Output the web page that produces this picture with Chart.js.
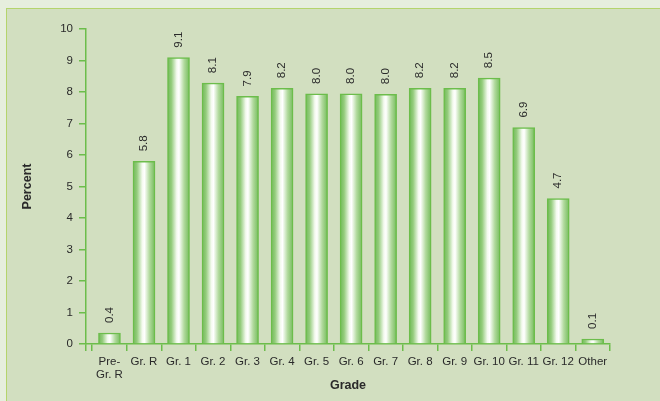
<!DOCTYPE html>
<html>
<head>
<meta charset="utf-8">
<script src="https://cdn.jsdelivr.net/npm/chart.js@4/dist/chart.umd.min.js"></script>
<style>
  html, body { margin:0; padding:0; }
  body { width:660px; height:401px; background:#e6eedd; position:relative; overflow:hidden; }
  #panel { position:absolute; left:6px; top:8px; width:700px; height:450px; background:#d2dfc0;
           border-left:1.5px solid #b4d46c; border-top:1.5px solid #b4d46c; }
  #wrap { position:absolute; left:0; top:0; width:660px; height:401px; }
</style>
</head>
<body>
<div id="panel"></div>
<div id="wrap"><canvas id="c" width="660" height="401"></canvas></div>
<script>
const categories = [['Pre-','Gr. R'], 'Gr. R', 'Gr. 1', 'Gr. 2', 'Gr. 3', 'Gr. 4', 'Gr. 5', 'Gr. 6', 'Gr. 7', 'Gr. 8', 'Gr. 9', 'Gr. 10', 'Gr. 11', 'Gr. 12', 'Other'];
const percentValues = [0.35, 5.8, 9.09, 8.28, 7.86, 8.12, 7.94, 7.94, 7.93, 8.12, 8.12, 8.44, 6.87, 4.62, 0.16];
const valueLabels = ['0.4', '5.8', '9.1', '8.1', '7.9', '8.2', '8.0', '8.0', '8.0', '8.2', '8.2', '8.5', '6.9', '4.7', '0.1'];
const yTicks = [0, 1, 2, 3, 4, 5, 6, 7, 8, 9, 10];

const AXIS = '#6cbd4b';
const TXT = '#2a2a2a';
const X_MIN = -0.68;
const X_MAX = categories.length - 0.5;
const BAR_W = 22;

function barFill(ctx) {
  const chart = ctx.chart;
  const xs = chart.scales.x;
  if (!chart.chartArea || !xs || ctx.dataIndex === undefined) return '#a6d48e';
  const cx = xs.getPixelForValue(ctx.dataIndex);
  const w = BAR_W;
  const g = chart.ctx.createLinearGradient(cx - w / 2, 0, cx + w / 2, 0);
  g.addColorStop(0, '#6fb957');
  g.addColorStop(0.18, '#94cc7c');
  g.addColorStop(0.42, '#f4faef');
  g.addColorStop(0.52, '#ffffff');
  g.addColorStop(0.75, '#b2da9e');
  g.addColorStop(1, '#74bb5b');
  return g;
}

const valueLabelPlugin = {
  id: 'valueLabels',
  afterDatasetsDraw(chart) {
    const meta = chart.getDatasetMeta(0);
    const c = chart.ctx;
    c.save();
    c.fillStyle = TXT;
    c.font = '11.5px "Liberation Sans", Arial, sans-serif';
    c.textAlign = 'left';
    c.textBaseline = 'middle';
    meta.data.forEach((el, i) => {
      const p = el.getProps(['x', 'y'], true);
      c.save();
      c.translate(p.x, p.y - 10);
      c.rotate(-Math.PI / 2);
      c.fillText(valueLabels[i], 0, 0);
      c.restore();
    });
    c.restore();
  }
};

new Chart(document.getElementById('c'), {
  type: 'bar',
  data: {
    datasets: [{
      data: percentValues.map((v, i) => ({ x: i, y: v })),
      backgroundColor: barFill,
      borderColor: '#6cbd4b',
      borderWidth: 1.5,
      barThickness: BAR_W
    }]
  },
  options: {
    responsive: false,
    animation: false,
    devicePixelRatio: 1,
    layout: { padding: { top: 29, right: 50, bottom: 0, left: 0 } },
    plugins: { legend: { display: false }, tooltip: { enabled: false } },
    scales: {
      x: {
        type: 'linear',
        min: X_MIN,
        max: X_MAX,
        bounds: 'data',
        offset: false,
        afterBuildTicks: (s) => {
          const t = [{ value: X_MIN }];
          for (let i = 0; i <= categories.length; i++) t.push({ value: i - 0.5 });
          s.ticks = t;
        },
        afterFit: (s) => { s.height = 57; },
        grid: { offset: false, drawOnChartArea: false, tickLength: 7, color: AXIS, lineWidth: 1.5 },
        border: { color: AXIS, width: 1.5 },
        ticks: {
          autoSkip: false, maxRotation: 0, minRotation: 0,
          labelOffset: 17.25, padding: 4, color: TXT,
          font: { family: '"Liberation Sans", Arial, sans-serif', size: 11.5, lineHeight: 1.15 },
          callback: (v) => {
            if (Math.abs(v - X_MIN) < 1e-6) return '';
            const idx = Math.round(v + 0.5);
            return idx < categories.length ? categories[idx] : '';
          }
        },
        title: {
          display: true, text: 'Grade', color: TXT,
          font: { family: '"Liberation Sans", Arial, sans-serif', size: 12.5, weight: 'bold' },
          padding: { top: 0, bottom: 7.5 }
        }
      },
      y: {
        min: 0, max: 10,
        afterBuildTicks: (s) => { s.ticks = yTicks.map(v => ({ value: v })); },
        afterFit: (s) => { s.width = 86; },
        grid: { drawOnChartArea: false, tickLength: 7, color: AXIS, lineWidth: 1.5 },
        border: { color: AXIS, width: 1.5 },
        ticks: {
          padding: 6, color: TXT,
          font: { family: '"Liberation Sans", Arial, sans-serif', size: 11.5 }
        },
        title: {
          display: true, text: 'Percent', color: TXT,
          font: { family: '"Liberation Sans", Arial, sans-serif', size: 12.5, weight: 'bold' },
          padding: { top: 20.5, bottom: 0 }
        }
      }
    }
  },
  plugins: [valueLabelPlugin]
});
</script>
</body>
</html>
